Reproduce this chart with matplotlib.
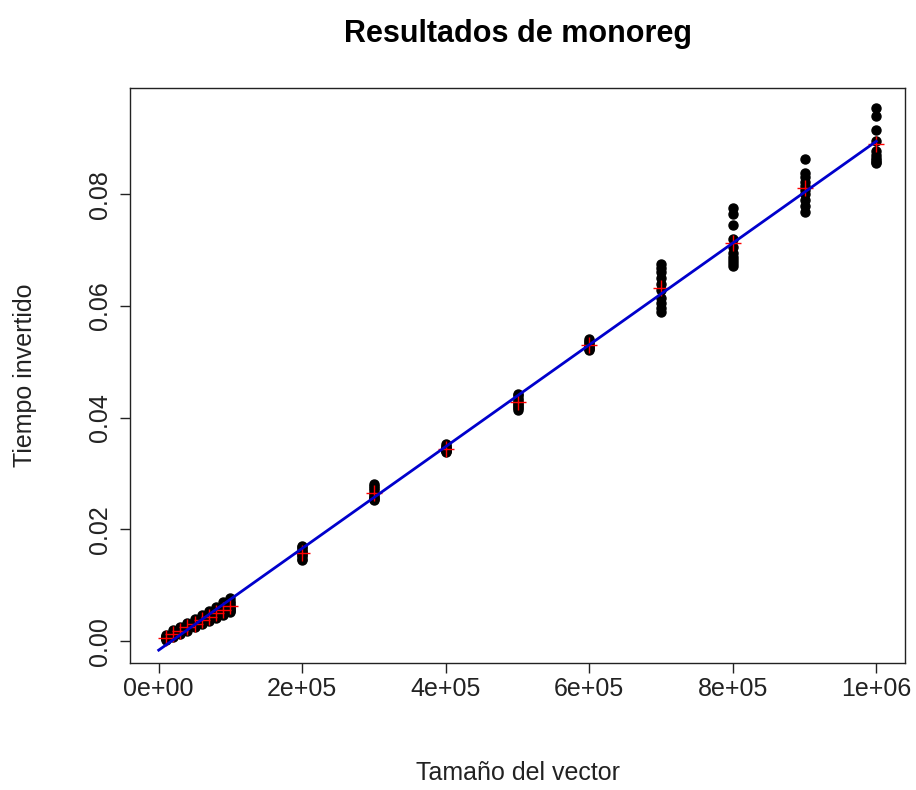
import matplotlib.pyplot as plt
import numpy as np

plt.rcParams['font.family'] = ['Liberation Sans', 'DejaVu Sans']

# vector sizes and measured times (10 runs each)
sizes = [10000, 20000, 30000, 40000, 50000, 60000, 70000, 80000, 90000, 100000,
         200000, 300000, 400000, 500000, 600000, 700000, 800000, 900000, 1000000]

times = [
    [0.0012, 0.0010, 0.0008, 0.0007, 0.0006, 0.0006, 0.0005, 0.0005, 0.0004, 0.0003],
    [0.0020, 0.0017, 0.0015, 0.0014, 0.0013, 0.0012, 0.0011, 0.0010, 0.0009, 0.0008],
    [0.0026, 0.0023, 0.0021, 0.0020, 0.0019, 0.0018, 0.0017, 0.0016, 0.0015, 0.0013],
    [0.0033, 0.0030, 0.0028, 0.0026, 0.0025, 0.0024, 0.0023, 0.0022, 0.0021, 0.0019],
    [0.0040, 0.0037, 0.0034, 0.0032, 0.0031, 0.0030, 0.0029, 0.0028, 0.0027, 0.0025],
    [0.0047, 0.0043, 0.0040, 0.0038, 0.0037, 0.0036, 0.0035, 0.0034, 0.0032, 0.0030],
    [0.0054, 0.0050, 0.0047, 0.0045, 0.0043, 0.0042, 0.0041, 0.0040, 0.0038, 0.0036],
    [0.0062, 0.0057, 0.0054, 0.0051, 0.0049, 0.0048, 0.0047, 0.0046, 0.0044, 0.0042],
    [0.0070, 0.0064, 0.0060, 0.0058, 0.0056, 0.0054, 0.0053, 0.0051, 0.0049, 0.0047],
    [0.0078, 0.0072, 0.0068, 0.0065, 0.0062, 0.0060, 0.0058, 0.0056, 0.0054, 0.0052],
    [0.0170, 0.0168, 0.0165, 0.0162, 0.0160, 0.0158, 0.0155, 0.0152, 0.0148, 0.0145],
    [0.0282, 0.0278, 0.0274, 0.0270, 0.0265, 0.0262, 0.0258, 0.0256, 0.0254, 0.0252],
    [0.0353, 0.0350, 0.0348, 0.0346, 0.0344, 0.0343, 0.0342, 0.0341, 0.0340, 0.0338],
    [0.0443, 0.0440, 0.0436, 0.0432, 0.0428, 0.0425, 0.0422, 0.0420, 0.0417, 0.0414],
    [0.0541, 0.0538, 0.0535, 0.0531, 0.0528, 0.0526, 0.0525, 0.0524, 0.0523, 0.0521],
    [0.0675, 0.0668, 0.0660, 0.0650, 0.0640, 0.0628, 0.0615, 0.0605, 0.0597, 0.0590],
    [0.0776, 0.0765, 0.0745, 0.0720, 0.0705, 0.0695, 0.0688, 0.0682, 0.0677, 0.0672],
    [0.0863, 0.0838, 0.0830, 0.0822, 0.0815, 0.0808, 0.0800, 0.0790, 0.0778, 0.0768],
    [0.0955, 0.0940, 0.0915, 0.0895, 0.0878, 0.0870, 0.0865, 0.0862, 0.0858, 0.0855],
]

xticks = [0, 200000, 400000, 600000, 800000, 1000000]
xtick_labels = ["0e+00", "2e+05", "4e+05", "6e+05", "8e+05", "1e+06"]
yticks = [0.00, 0.02, 0.04, 0.06, 0.08]
ytick_labels = ["0.00", "0.02", "0.04", "0.06", "0.08"]

xs = np.repeat(sizes, [len(t) for t in times])
ys = np.concatenate(times)
means = [np.mean(t) for t in times]
slope, intercept = np.polyfit(xs, ys, 1)

fig = plt.figure(figsize=(9.16, 7.9), dpi=100)
ax = fig.add_axes([130/916, 1 - 663/790, 775/916, 575/790])

ax.plot(xs, ys, 'o', color='black', markersize=6.5, zorder=2)
ax.plot(sizes, means, '+', color='red', markersize=12, markeredgewidth=1, zorder=3)
line_x = np.array([0, sizes[-1]])
ax.plot(line_x, intercept + slope * line_x, color='#0000cc', linewidth=2, zorder=4)

ax.set_xlim(-40000, 1040000)
ax.set_ylim(-0.0039, 0.0990)
ax.set_xticks(xticks)
ax.set_xticklabels(xtick_labels)
ax.set_yticks(yticks)
ax.set_yticklabels(ytick_labels, rotation=90, va='center')
ax.tick_params(direction='out', length=7, width=1, labelsize=18, colors='#222222')
ax.tick_params(axis='x', pad=3)
ax.tick_params(axis='y', pad=6)
for s in ax.spines.values():
    s.set_linewidth(1)
    s.set_color('#222222')

ax.set_xlabel("Tamaño del vector", fontsize=18, labelpad=43, color='#222222')
ax.set_ylabel("Tiempo invertido", fontsize=18, labelpad=37, color='#222222')
ax.set_title("Resultados de monoreg", fontsize=22, fontweight='bold', pad=33)

fig.savefig("out.png")
